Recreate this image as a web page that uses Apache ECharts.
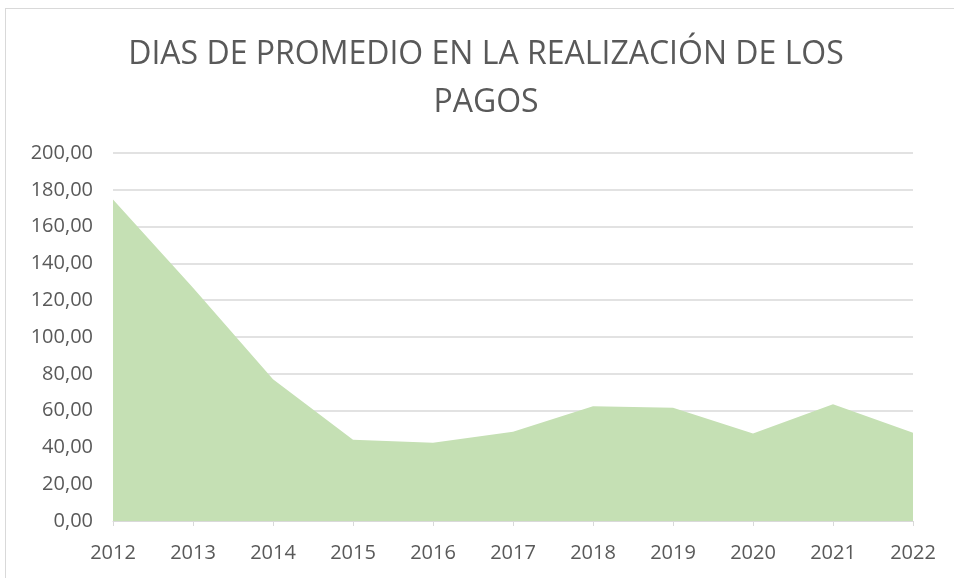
<!DOCTYPE html>
<html>
<head>
<meta charset="utf-8">
<script src="https://cdn.jsdelivr.net/npm/echarts@6/dist/echarts.min.js"></script>
<style>
  html, body { margin: 0; padding: 0; background: #fff; }
  #chart { width: 954px; height: 578px; }
  .frame { position: absolute; left: 5px; top: 8px; width: 960px; height: 600px; border: 1px solid #d9d9d9; pointer-events: none; }
</style>
</head>
<body>
<div class="frame"></div>
<div id="chart"></div>
<script>
// años y días promedio
const years = ['2012', '2013', '2014', '2015', '2016', '2017', '2018', '2019', '2020', '2021', '2022'];
const days = [174.7, 126.7, 77.1, 44.1, 42.5, 48.5, 62.3, 61.5, 47.6, 63.4, 48.0];
const titleText = 'DIAS DE PROMEDIO EN LA REALIZACIÓN DE LOS\nPAGOS';

const chart = echarts.init(document.getElementById('chart'));

chart.setOption({
    animation: false,
    title: {
        text: titleText,
        left: 481,
        textAlign: 'center',
        top: 26,
        textStyle: {
            fontFamily: 'Open Sans',
            fontSize: 32,
            fontWeight: 'normal',
            color: '#595959',
            lineHeight: 48
        }
    },
    grid: { left: 113, right: 41, top: 153, bottom: 57 },
    xAxis: {
        type: 'category',
        data: years,
        boundaryGap: false,
        axisLine: { lineStyle: { color: '#d9d9d9', width: 1 } },
        axisTick: { show: true, length: 5, lineStyle: { color: '#d9d9d9' } },
        axisLabel: { color: '#595959', fontFamily: 'Open Sans', fontSize: 20, margin: 22 }
    },
    yAxis: {
        type: 'value',
        min: 0,
        max: 200,
        interval: 20,
        axisLine: { show: false },
        axisTick: { show: false },
        splitLine: { lineStyle: { color: '#d9d9d9', width: 1.5 } },
        axisLabel: {
            color: '#595959',
            fontFamily: 'Open Sans',
            fontSize: 20,
            margin: 20,
            formatter: v => v.toFixed(2).replace('.', ',')
        }
    },
    series: [{
        type: 'line',
        data: days,
        showSymbol: false,
        lineStyle: { width: 0 },
        areaStyle: { color: '#c5e0b4', opacity: 1 }
    }]
});
</script>
</body>
</html>
